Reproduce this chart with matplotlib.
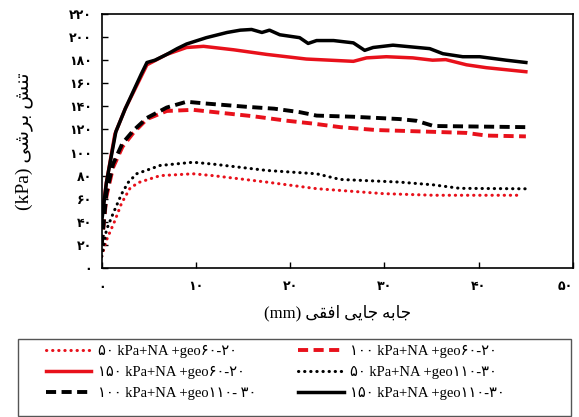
import matplotlib
matplotlib.use("Agg")
import matplotlib.pyplot as plt
from matplotlib.patches import Rectangle
from matplotlib.ticker import FuncFormatter

# curves: displacement (mm) vs shear stress (kPa)
x_s150_110 = [0, 0.5, 1.5, 2.5, 3.35, 4.2, 4.8, 5.65, 6.9, 8.0, 9.0, 11.1, 13.3, 14.7, 15.9, 17.0,
              17.8, 18.9, 21.0, 21.9, 22.8, 24.6, 26.7, 27.9, 28.8, 30.9, 34.8, 36.2, 38.3, 40.1, 42.9, 45.0]
y_s150_110 = [40, 74, 118, 138, 153, 168, 178, 180, 185, 190, 194, 199.5, 204, 206, 206.6, 204,
              206, 202, 199.5, 194.5, 197, 197, 195, 188.5, 191, 193, 190, 185.6, 183, 183, 180, 178]

x_s150_60 = [0, 0.5, 1.4, 2.5, 3.35, 4.8, 6.9, 9.0, 10.8, 14.0, 17.5, 19.6, 21.7, 26.7, 28.1, 30.2,
             33.0, 35.1, 36.5, 38.7, 40.8, 45.0]
y_s150_60 = [45, 74, 116, 138, 152, 176, 185, 191, 192, 189, 185, 183, 181, 179, 182, 183,
             182, 180, 180.5, 176, 173.5, 170]

x_d100_110 = [0, 0.5, 1.2, 2.2, 3.35, 4.8, 6.9, 9.0, 11.0, 15.4, 18.3, 21.0, 22.8, 26.7, 31.6, 33.4, 35.2, 45.0]
y_d100_110 = [20, 65, 90, 108, 119, 130, 139, 144, 142.5, 139.6, 138, 135, 132, 131, 129, 127.5, 123, 122]

x_d100_60 = [0, 0.5, 1.2, 2.2, 3.35, 4.8, 6.9, 9.7, 11.4, 16.0, 19.6, 22.5, 25.3, 29.1, 33.4, 38.7, 40.8, 45.0]
y_d100_60 = [20, 62, 87, 105, 117, 129, 136, 137, 135.5, 131.5, 127.6, 125, 122, 119.5, 118.4, 117, 114.7, 114]

x_p50_110 = [0, 0.2, 0.5, 1.2, 2.1, 2.8, 3.7, 6.2, 9.7, 11.8, 17.5, 22.8, 25.3, 31.6, 35.2, 38.0, 45.0]
y_p50_110 = [10, 18, 33, 47, 64, 74, 81.6, 88.8, 91.6, 90, 84.5, 81.6, 76.7, 74.4, 72, 69, 68.6]

x_p50_60 = [0, 0.5, 1.4, 2.1, 3.0, 3.9, 6.2, 9.7, 11.8, 17.5, 22.8, 29.9, 35.2, 44.5]
y_p50_60 = [10, 24, 41, 56, 69, 74, 80, 81.6, 80, 74.4, 68.7, 64.4, 63, 63]

labels = ["۵۰ kPa+NA +geo۶۰-۲۰", "۱۰۰ kPa+NA +geo۶۰-۲۰", "۱۵۰ kPa+NA +geo۶۰-۲۰",
          "۵۰ kPa+NA +geo۱۱۰-۳۰", "۱۰۰ kPa+NA +geo۱۱۰- ۳۰", "۱۵۰ kPa+NA +geo۱۱۰-۳۰"]

xticks = [0, 10, 20, 30, 40, 50]
yticks = list(range(0, 221, 20))

RED = "#e8111b"
FAMILY = ["Liberation Serif", "DejaVu Sans"]

# minimal arabic/persian shaping, matplotlib has no bidi or joining
FORMS = {
    "ا": ("\uFE8D", "\uFE8E", None, None),
    "ب": ("\uFE8F", "\uFE90", "\uFE91", "\uFE92"),
    "ت": ("\uFE95", "\uFE96", "\uFE97", "\uFE98"),
    "ج": ("\uFE9D", "\uFE9E", "\uFE9F", "\uFEA0"),
    "ر": ("\uFEAD", "\uFEAE", None, None),
    "ش": ("\uFEB5", "\uFEB6", "\uFEB7", "\uFEB8"),
    "ف": ("\uFED1", "\uFED2", "\uFED3", "\uFED4"),
    "ق": ("\uFED5", "\uFED6", "\uFED7", "\uFED8"),
    "ن": ("\uFEE5", "\uFEE6", "\uFEE7", "\uFEE8"),
    "ه": ("\uFEE9", "\uFEEA", "\uFEEB", "\uFEEC"),
    "ی": ("\uFBFC", "\uFBFD", "\uFBFE", "\uFBFF"),
}


def shape(txt):
    out = []
    for i, ch in enumerate(txt):
        if ch not in FORMS:
            out.append(ch)
            continue
        prev = txt[i - 1] if i > 0 else ""
        nxt = txt[i + 1] if i + 1 < len(txt) else ""
        join_prev = prev in FORMS and FORMS[prev][2] is not None
        join_next = FORMS[ch][2] is not None and nxt in FORMS
        iso, fin, ini, med = FORMS[ch]
        if join_prev and join_next:
            out.append(med)
        elif join_prev:
            out.append(fin)
        elif join_next:
            out.append(ini)
        else:
            out.append(iso)
    return "".join(reversed(out))


def fa_digits(v, pos=None):
    return str(int(v)).translate(str.maketrans("0123456789", "۰۱۲۳۴۵۶۷۸۹"))


fig = plt.figure(figsize=(5.79, 4.17), dpi=100)
ax = fig.add_axes([101.7 / 579, 1 - 268 / 417, (573 - 101.7) / 579, (268 - 14) / 417])

dot = dict(linestyle=(0, (0.1, 1.9)), linewidth=2.2, dash_capstyle="round")
dash = dict(linestyle=(0, (2.6, 1.4)), linewidth=2.8)
solid = dict(linestyle="-", linewidth=2.5)

h1, = ax.plot(x_p50_60, y_p50_60, color=RED, **dot)
h2, = ax.plot(x_d100_60, y_d100_60, color=RED, **dash)
h3, = ax.plot(x_s150_60, y_s150_60, color=RED, **solid)
h4, = ax.plot(x_p50_110, y_p50_110, color="black", **dot)
h5, = ax.plot(x_d100_110, y_d100_110, color="black", **dash)
h6, = ax.plot(x_s150_110, y_s150_110, color="black", **solid)

ax.set_xlim(0, 50)
ax.set_ylim(0, 220)
ax.set_xticks(xticks)
ax.set_yticks(yticks)
ax.xaxis.set_major_formatter(FuncFormatter(fa_digits))
ax.yaxis.set_major_formatter(FuncFormatter(fa_digits))
ax.tick_params(direction="in", length=4.5, width=1, labelsize=9)
ax.tick_params(axis="x", pad=9)
ax.tick_params(axis="y", pad=7)
for lab in ax.get_xticklabels() + ax.get_yticklabels():
    lab.set_fontweight("bold")
ax.get_xticklabels()[-1].set_horizontalalignment("right")
for sp in ax.spines.values():
    sp.set_linewidth(1.2)

ax.set_xlabel("(mm) " + shape("جابه جایی افقی"), family=FAMILY, fontsize=12, labelpad=8)
ax.set_ylabel("(kPa) " + shape("تنش برشی"), family=FAMILY, fontsize=14, labelpad=26)

# legend box below the axes
fig.patches.append(Rectangle((18 / 579, 0.002), (571 - 18) / 579, (416 - 339) / 417,
                             transform=fig.transFigure, fill=False, edgecolor="#555555", linewidth=1))
fig.legend([h1, h3, h5, h2, h4, h6],
           [labels[0], labels[2], labels[4], labels[1], labels[3], labels[5]],
           loc="upper left", bbox_to_anchor=(46 / 579, 1 - 349 / 417, (505 - 46) / 579, 0.01),
           mode="expand", ncol=2, frameon=False, borderpad=0, borderaxespad=0,
           handlelength=3.1, handletextpad=0.45, labelspacing=0.55,
           prop={"family": FAMILY, "size": 10.5})

fig.savefig("out.png", dpi=100)
